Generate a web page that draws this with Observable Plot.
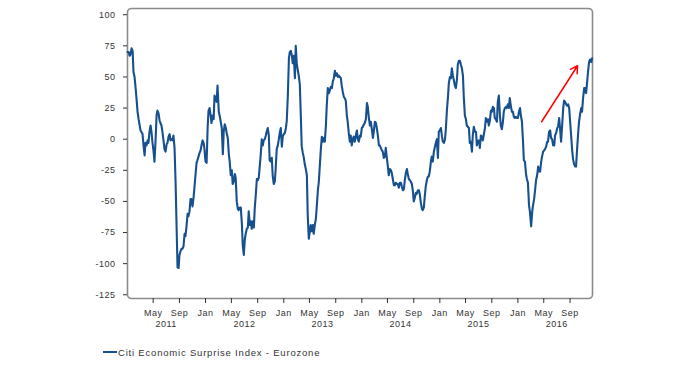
<!DOCTYPE html>
<html><head><meta charset="utf-8">
<script src="https://cdn.jsdelivr.net/npm/d3@7"></script>
<script src="https://cdn.jsdelivr.net/npm/@observablehq/plot@0.6"></script>
<style>
body{margin:0;background:#fff;}
#wrap{position:relative;width:700px;height:365px;font-family:"Liberation Sans",Arial,sans-serif;}
#wrap svg text{letter-spacing:0.5px;}
#legend{position:absolute;left:103px;top:345px;height:14px;font-size:9.5px;letter-spacing:0.8px;color:#333;display:flex;align-items:center;white-space:nowrap;}
#legend .sw{display:inline-block;width:14px;height:2px;background:#17508f;margin-right:1px;}
</style></head><body><div id="wrap"><div id="legend"><span class="sw"></span><span id="legtext"></span></div></div>
<script>
// sampling days within each year (month-day)
const monthDays = ["01-01","01-06","01-11","01-15","01-20","01-25","01-29","02-03","02-08","02-12",
"02-17","02-22","02-26","03-03","03-08","03-12","03-17","03-22","03-26","03-31",
"04-05","04-09","04-14","04-19","04-23","04-28","05-03","05-07","05-12","05-17",
"05-21","05-26","05-31","06-04","06-09","06-14","06-19","06-23","06-28","07-03",
"07-07","07-12","07-17","07-21","07-26","07-31","08-04","08-09","08-14","08-18",
"08-23","08-28","09-01","09-06","09-11","09-15","09-20","09-25","09-29","10-04",
"10-09","10-13","10-18","10-23","10-27","11-01","11-06","11-10","11-15","11-20",
"11-24","11-29","12-04","12-09","12-13","12-18","12-23","12-27"];
const years = [2011, 2012, 2013, 2014, 2015, 2016];
const v2011 = [70,70,67,68,73,71,54,50,41,33, 22,16,12,7,5.5,4.5,-5,-13,-3,-5, -1,-3,6,11,6,-3,-10,-18,-2,19,
23,21,15,13,11,5,-2,-8,-10,-4, -3,2,4,-1,0,-1,3,-7,-35,-66, -103,-103.5,-93,-90,-88,-88,-86,-76,-78,-70,
-60,-62,-58,-48,-48,-54,-47,-39,-29,-19, -17,-14,-11,-9,-5,-1,-3,-8];
const v2012 = [-18,-19,10,23,25,19,13,19,16,35, 33,30,43,22,18,14,9,-12,6,12, 9,5,1,-12,-18,-29,-25,-36,-34,-28,
-31,-50,-56,-57,-55,-55,-68,-85,-93,-80, -76,-72,-71,-58,-69,-66,-72,-66,-71,-56, -45,-32,-33,-31,-21,-13,0,-5,-1,0,
3,6,9,3,-17,-18,-15,-29,-36,-34, -24,-8,-5,0,5,9,-6,2];
const v2013 = [4,5,9,15,35,65,70,71,67,61, 67,49,75,60,55,51,44,17,-6,-11, -15,-20,-24,-29,-61,-80,-74,-69,-74,-69,
-76,-69,-64,-55,-42,-34,-20,-9,2,-2, 1,-2,11,27,41,37,39,42,41,46, 49,55,51,53,50,51,50,49,43,38,
34,33,31,19,14,5,-2,3,-5,0, 2,-2,3,7,0,-2,3,2];
const v2014 = [9,10,12,13,16,29,26,17,11,14, 8,1,6,14,13,9,3,-5,-5,-7, -9,-10,-15,-14,-7,-15,-22,-29,-24,-25,
-27,-32,-37,-37,-35,-36,-36,-39,-35,-35, -38,-41,-40,-33,-27,-24,-28,-32,-33,-34, -36,-42,-50,-47,-43,-44,-41,-41,-44,-51,
-56,-57,-55,-45,-38,-33,-30,-30,-26,-18, -14,-18,-10,-6,-3,0,-15,6];
const v2015 = [7,9,2,-2,-3,0,8,23,34,45, 50,49,57,51,47,43,41,48,60,63, 63,60,57,51,34,19,16,11,10,9,
-3,-2,-10,3,10,6,6,-5,-1,-1, -7,3,2,-1,4,9,17,14,16,11, 15,23,22,26,25,17,16,14,30,35,
19,11,8,14,22,25,26,25,28,25, 33,27,22,22,18,17,18,17];
const v2016 = [17,22,25,19,14,-2,-17,-18,-28,-32, -35,-53,-58,-70,-58,-53,-48,-40,-33,-29, -22,-26,-26,-18,-14,-10,-9,-8,-6,-2,
-2,6,7,1,0,-5,-5,3,5,9, 10,17,7,-2,11,25,31,30,28,27, 28,25,15,3,-9,-16,-20,-22,-22,-8,
5,14,20,25,22,33,41,41,37,46, 54,62,64,62,65];
const seriesName = "Citi Economic Surprise Index - Eurozone";
const yTicks = [-125,-100,-75,-50,-25,0,25,50,75,100];
const xTicks = ["2011-05-01","2011-09-01","2012-01-01","2012-05-01","2012-09-01","2013-01-01","2013-05-01","2013-09-01",
"2014-01-01","2014-05-01","2014-09-01","2015-01-01","2015-05-01","2015-09-01","2016-01-01","2016-05-01","2016-09-01"];
const xDomain = ["2011-01-01","2016-12-15"];
const arrowFrom = {date: "2016-04-21", value: 14};
const arrowTo = {date: "2016-10-06", value: 59};

const series = [v2011, v2012, v2013, v2014, v2015, v2016];
const rows = years.flatMap((yr, k) => series[k].map((v, i) => ({date: new Date(`${yr}-${monthDays[i]}T00:00:00Z`), value: v})));
const parse = s => new Date(s + "T00:00:00Z");

const chart = Plot.plot({
  width: 700, height: 340,
  marginLeft: 127, marginRight: 108, marginTop: 8, marginBottom: 42,
  style: {fontFamily: "'Liberation Sans', Arial, sans-serif", fontSize: "9px", color: "#333", background: "#fff"},
  x: {type: "utc", domain: xDomain.map(parse)},
  y: {domain: [-128, 105]},
  marks: [
    Plot.frame({stroke: "#8a8a8a", strokeWidth: 1.6, rx: 4}),
    Plot.axisY({ticks: yTicks, tickFormat: d => String(d), tickSize: 4, tickPadding: 8, color: "#333", label: null}),
    Plot.axisX({ticks: xTicks.map(parse), tickFormat: d3.utcFormat("%b"), tickSize: 5, tickPadding: 6, color: "#333", label: null}),
    Plot.text(years, {x: d => new Date(Date.UTC(d, 6, 1)), frameAnchor: "bottom", dy: 28, text: d => String(d), fill: "#333"}),
    Plot.line(rows, {x: "date", y: "value", stroke: "#17508f", strokeWidth: 2.1}),
    Plot.arrow([{x1: parse(arrowFrom.date), y1: arrowFrom.value, x2: parse(arrowTo.date), y2: arrowTo.value}],
      {x1: "x1", y1: "y1", x2: "x2", y2: "y2", stroke: "#ff0000", strokeWidth: 1.5, headLength: 8, headAngle: 60})
  ]
});
const wrap = document.getElementById("wrap");
wrap.insertBefore(chart, wrap.firstChild);
document.getElementById("legtext").textContent = seriesName;
</script>
</body></html>
